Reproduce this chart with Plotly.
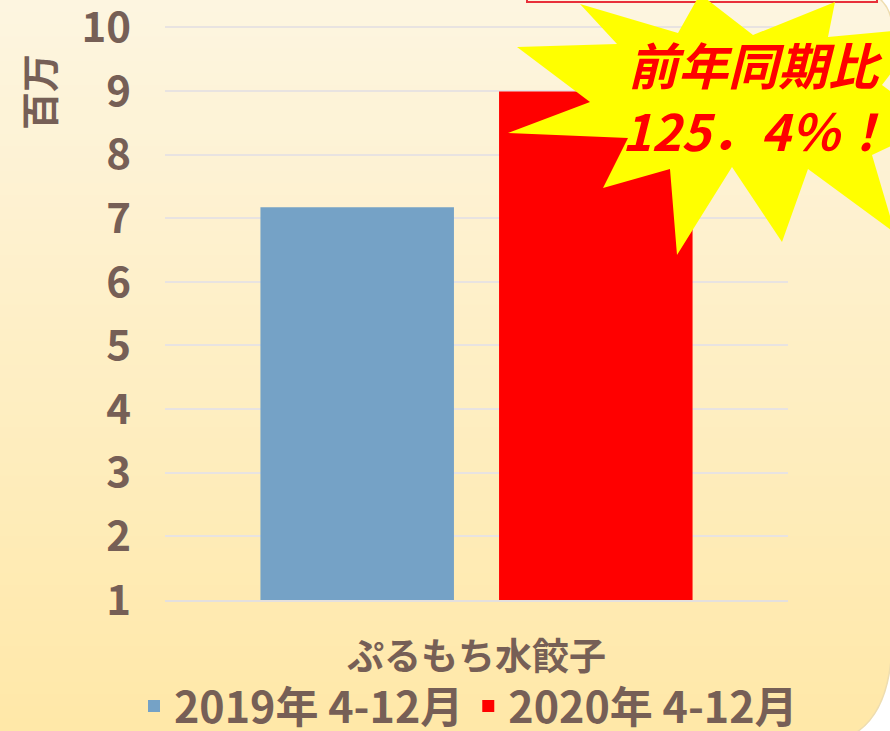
import plotly.graph_objects as go

# ---- data ----
categories = ["ぷるもち水餃子"]
series_names = ["2019年 4-12月", "2020年 4-12月"]
values_2019 = [7.17]
values_2020 = [8.99]
y_ticks = [1, 2, 3, 4, 5, 6, 7, 8, 9, 10]
y_title = "百万"
callout_line1 = "前年同期比"
callout_line2 = "125．4％！"

W, H = 890, 731
ML, MR, MT, MB = 165, 102, 26, 131
PW, PH = W - ML - MR, H - MT - MB

def px(x):
    return (x - ML) / PW

def py(y):
    return (H - MB - y) / PH

BROWN = "#765F56"
JP_FONT = "'Noto Sans CJK JP', sans-serif"

fig = go.Figure()
fig.add_trace(go.Bar(x=categories, y=values_2019, name=series_names[0],
                     marker=dict(color="#75A2C6", line=dict(width=0))))
fig.add_trace(go.Bar(x=categories, y=values_2020, name=series_names[1],
                     marker=dict(color="#FF0000", line=dict(width=0))))

shapes = []
# background gradient
top = (0xFD, 0xF5, 0xE0)
bot = (0xFF, 0xE8, 0xA8)
N = 60
for i in range(N):
    t = i / (N - 1)
    c = tuple(round(top[k] + (bot[k] - top[k]) * t) for k in range(3))
    y0 = H * i / N
    y1 = H * (i + 1) / N + 1
    shapes.append(dict(type="rect", xref="paper", yref="paper", layer="below",
                       x0=px(-5), x1=px(W + 5), y0=py(y0), y1=py(y1),
                       fillcolor="rgb(%d,%d,%d)" % c, line=dict(width=0)))

def path(pts, close=True):
    s = "M " + " L ".join("%.5f,%.5f" % (px(a), py(b)) for a, b in pts)
    return s + (" Z" if close else "")

# rounded corners (white outside)
shapes.append(dict(type="path", xref="paper", yref="paper", layer="below",
                   path="M %.5f,%.5f Q %.5f,%.5f %.5f,%.5f L %.5f,%.5f Z" % (
                       px(891), py(660), px(886), py(712), px(857), py(732), px(891), py(732)),
                   fillcolor="white", line=dict(color="#EEDDB0", width=1.5)))
shapes.append(dict(type="path", xref="paper", yref="paper", layer="below",
                   path="M %.5f,%.5f Q %.5f,%.5f %.5f,%.5f L %.5f,%.5f Z" % (
                       px(880), py(-1), px(888), py(6), px(891), py(18), px(891), py(-1)),
                   fillcolor="white", line=dict(color="#EEDDB0", width=1.5)))

# red box bottom edge at top
shapes.append(dict(type="rect", xref="paper", yref="paper", layer="above",
                   x0=px(527), x1=px(877), y0=py(2), y1=py(-20),
                   fillcolor="rgba(0,0,0,0)", line=dict(color="#E8303A", width=2)))

# starburst
star = [(580, 4), (617, 44), (517, 47), (590, 102), (508, 133), (628, 138),
        (603, 188), (670, 169), (677, 255), (732, 167), (782, 242), (808, 169),
        (895, 233), (872, 155), (935, 125), (882, 85), (925, 28), (828, 37),
        (835, 2), (753, 35), (700, -6), (678, 33)]
shapes.append(dict(type="path", xref="paper", yref="paper", layer="above",
                   path=path(star), fillcolor="#FFFF00", line=dict(width=0)))

annotations = [
    dict(text=y_title, xref="paper", yref="paper", x=px(37), y=py(92),
         textangle=-90, showarrow=False, xanchor="center", yanchor="middle",
         font=dict(family=JP_FONT, size=38, color=BROWN, weight="bold")),
    dict(text="<i><b>" + callout_line1 + "</b></i>", xref="paper", yref="paper",
         x=px(755), y=py(63), showarrow=False, xanchor="center", yanchor="middle",
         font=dict(family=JP_FONT, size=50, color="#FF0000")),
    dict(text="<i><b>" + callout_line2 + "</b></i>", xref="paper", yref="paper",
         x=px(756), y=py(129), showarrow=False, xanchor="center", yanchor="middle",
         font=dict(family=JP_FONT, size=50, color="#FF0000")),
]

fig.update_layout(
    width=W, height=H,
    margin=dict(l=ML, r=MR, t=MT, b=MB, pad=0, autoexpand=False),
    paper_bgcolor="white",
    plot_bgcolor="rgba(0,0,0,0)",
    barmode="group", bargap=0.234, bargroupgap=0.189,
    shapes=shapes, annotations=annotations,
    showlegend=True,
    legend=dict(orientation="h", xref="paper", x=px(803), xanchor="right",
                yref="paper", y=py(706), yanchor="middle",
                font=dict(family=JP_FONT, size=43, color=BROWN, weight="bold"),
                bgcolor="rgba(0,0,0,0)", itemwidth=30, tracegroupgap=0),
    xaxis=dict(showgrid=False, showline=True, linecolor="#E4E0DE", linewidth=2,
               ticks="", ticklabelstandoff=24, automargin=False,
               tickfont=dict(family=JP_FONT, size=37, color=BROWN, weight="bold")),
    yaxis=dict(range=[1, 10.02], tickvals=y_ticks, showgrid=True,
               gridcolor="#E8E3E1", gridwidth=2, zeroline=False, showline=False,
               ticks="", ticklabelstandoff=33, automargin=False,
               ticklabeloverflow="allow",
               tickfont=dict(family=JP_FONT, size=42, color=BROWN, weight="bold")),
)

fig.write_html("out.html", config={"displayModeBar": False},
               post_script="document.body.style.margin='0px';")
